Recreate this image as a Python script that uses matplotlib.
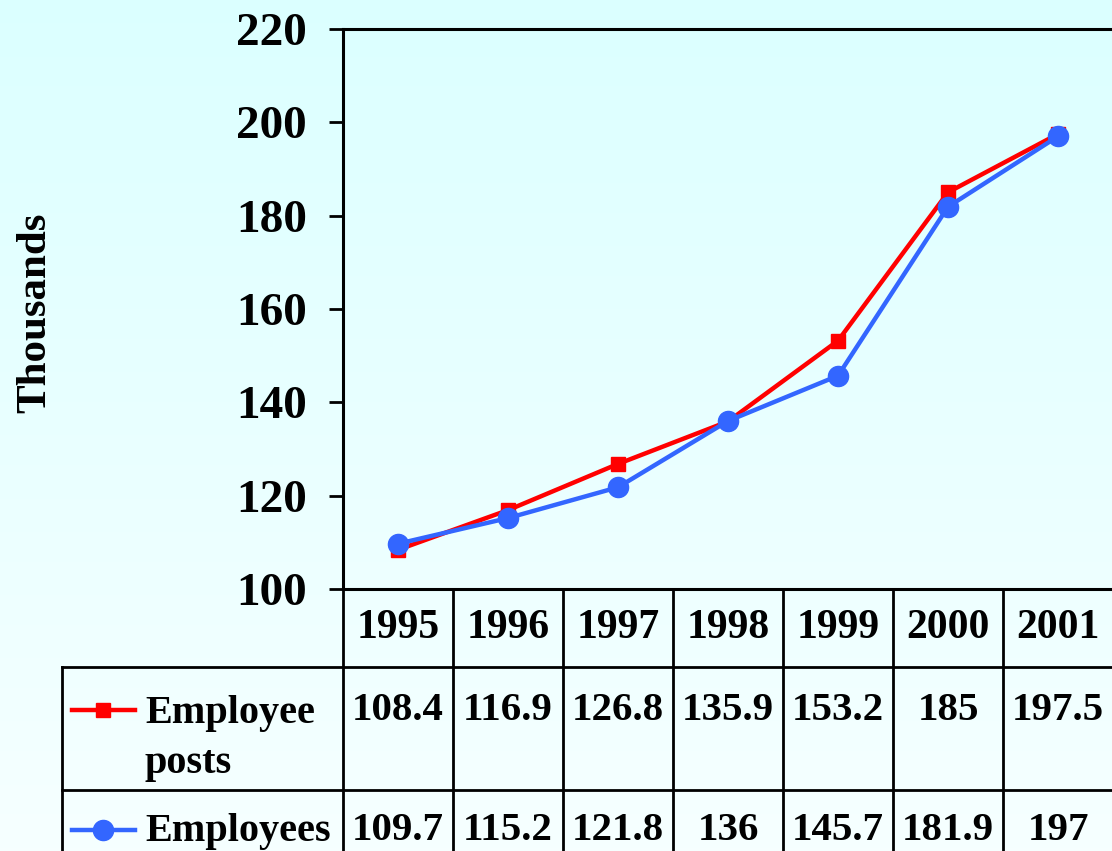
import numpy as np
import matplotlib
matplotlib.use("Agg")
import matplotlib.pyplot as plt
import matplotlib.transforms as mtransforms
from matplotlib.lines import Line2D

plt.rcParams['font.family'] = ['Liberation Serif', 'DejaVu Serif']
plt.rcParams['font.weight'] = 'bold'

years = ["1995", "1996", "1997", "1998", "1999", "2000", "2001"]
posts = [108.4, 116.9, 126.8, 135.9, 153.2, 185, 197.5]
employees = [109.7, 115.2, 121.8, 136, 145.7, 181.9, 197]
posts_txt = ["108.4", "116.9", "126.8", "135.9", "153.2", "185", "197.5"]
employees_txt = ["109.7", "115.2", "121.8", "136", "145.7", "181.9", "197"]
series_labels = ["Employee\nposts", "Employees"]
yticks = [100, 120, 140, 160, 180, 200, 220]

W, H = 1112, 851
fig = plt.figure(figsize=(W / 100, H / 100), dpi=100)

# gradient background
bg = fig.add_axes([0, 0, 1, 1], zorder=-10)
grad = np.linspace(0, 1, 256).reshape(-1, 1)
c_top = np.array([0.86, 1.0, 1.0])
c_bot = np.array([0.965, 1.0, 1.0])
img = c_top[None, None, :] * (1 - grad[:, :, None]) + c_bot[None, None, :] * grad[:, :, None]
bg.imshow(img, aspect='auto', extent=[0, 1, 0, 1])
bg.axis('off')

left, right, top, bottom = 343, 1113, 29, 589
ax = fig.add_axes([left / W, 1 - bottom / H, (right - left) / W, (bottom - top) / H])
ax.set_facecolor('none')

x = np.arange(len(years))
red = '#FF0000'
blue = '#3366FF'
ax.plot(x, posts, color=red, lw=3.2, marker='s', ms=10, mec=red, mfc=red, zorder=3)
ax.plot(x, employees, color=blue, lw=3.2, marker='o', ms=14.5, mec=blue, mfc=blue, zorder=4)

ax.set_xlim(-0.5, len(years) - 0.5)
ax.set_ylim(100, 220)
ax.set_yticks(yticks)
ax.set_yticklabels([str(t) for t in yticks], fontsize=34, fontweight='bold')
ax.tick_params(axis='y', direction='out', length=10, width=2, pad=16)
ax.set_xticks([])
for s in ['left', 'top', 'bottom', 'right']:
    ax.spines[s].set_linewidth(2.2)
    ax.spines[s].set_color('black')

fig.text(35 / W, 1 - 313 / H, "Thousands", rotation=90, ha='center', va='center',
         fontsize=31, fontweight='bold')

# data table
trans = mtransforms.blended_transform_factory(ax.transData, ax.transAxes)
ph = bottom - top
hdr_b = -(667 - bottom) / ph
r1_b = -(790 - bottom) / ph
r2_b = -(930 - bottom) / ph
tbl_left = -0.5 + (62 - left) / 110.0
bounds = [i - 0.5 for i in range(len(years) + 1)]
lw = 2.0
for b in bounds:
    ax.add_line(Line2D([b, b], [0, r2_b], transform=trans, color='black', lw=lw, clip_on=False))
ax.add_line(Line2D([tbl_left, tbl_left], [hdr_b, r2_b], transform=trans, color='black', lw=lw, clip_on=False))
for yb in [hdr_b, r1_b]:
    ax.add_line(Line2D([tbl_left, bounds[-1]], [yb, yb], transform=trans, color='black', lw=lw, clip_on=False))

for i, yr in enumerate(years):
    ax.text(i, -(628 - bottom) / ph, yr, transform=trans, ha='center', va='center',
            fontsize=30, fontweight='bold')
    ax.text(i, -(710 - bottom) / ph, posts_txt[i], transform=trans, ha='center', va='center',
            fontsize=29.5, fontweight='bold')
    ax.text(i, -(831 - bottom) / ph, employees_txt[i], transform=trans, ha='center', va='center',
            fontsize=29.5, fontweight='bold')

# legend keys
lx0 = -0.5 + (72 - left) / 110.0
lx1 = -0.5 + (135 - left) / 110.0
lxm = (lx0 + lx1) / 2
for yy, col, mk, ms in [(710, red, 's', 10), (830, blue, 'o', 14.5)]:
    yf = -(yy - bottom) / ph
    ax.add_line(Line2D([lx0, lx1], [yf, yf], transform=trans, color=col, lw=3.2, clip_on=False))
    ax.add_line(Line2D([lxm], [yf], transform=trans, color=col, marker=mk, ms=ms, mfc=col, mec=col,
                       clip_on=False))
tx = -0.5 + (145 - left) / 110.0
ax.text(tx, -(695 - bottom) / ph, series_labels[0], transform=trans, ha='left', va='top',
        fontsize=29, fontweight='bold', linespacing=1.45)
ax.text(tx, -(831 - bottom) / ph, series_labels[1], transform=trans, ha='left', va='center',
        fontsize=29, fontweight='bold')

fig.savefig("out.png", dpi=100)
